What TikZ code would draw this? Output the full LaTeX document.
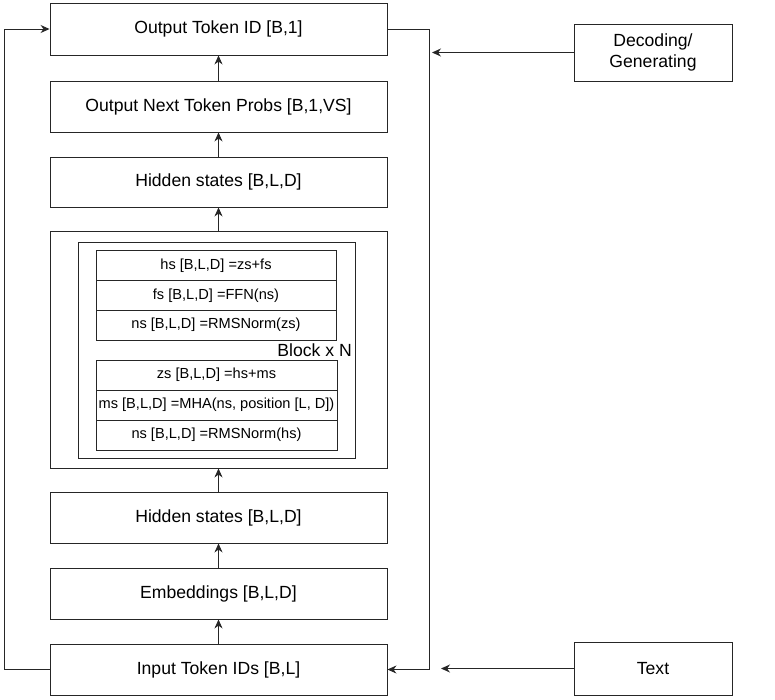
\documentclass[tikz,border=0pt]{standalone}
\usepackage{fontspec}
\setmainfont{Liberation Sans}
\usetikzlibrary{arrows.meta}
\begin{document}
\begin{tikzpicture}[x=1pt,y=-1pt,
  box/.style={draw=black!85,line width=0.9pt,inner sep=0pt,font=\fontsize{17.6}{21}\selectfont,align=center},
  mainbox/.style={box,minimum width=337pt},
  rowbox/.style={draw=black!85,line width=0.9pt,inner sep=0pt,minimum width=240pt,minimum height=30pt,font=\fontsize{14.6}{17}\selectfont},
  arr/.style={draw=black!85,line width=0.9pt,-{Stealth[length=9pt,width=8pt]}},
  ln/.style={draw=black!85,line width=0.9pt}]
\useasboundingbox (0,0) rectangle (775,699);
% main column
\node[mainbox,minimum height=52pt] (out) at (218.5,29) {Output Token ID [B,1]};
\node[mainbox,minimum height=51pt] (probs) at (218.5,106.5) {Output Next Token Probs [B,1,VS]};
\node[mainbox,minimum height=50pt] (hs2) at (218.5,182) {Hidden states [B,L,D]};
\node[mainbox,minimum height=237pt] (block) at (218.5,349.5) {};
\node[draw=black!85,line width=0.9pt,minimum width=277pt,minimum height=216pt,inner sep=0pt] (inner) at (216.5,350) {};
\node[rowbox] (r1) at (216,265.5) {hs [B,L,D] =zs+fs};
\node[rowbox] (r2) at (216,295.5) {fs [B,L,D] =FFN(ns)};
\node[rowbox] (r3) at (216,325) {ns [B,L,D] =RMSNorm(zs)};
\node[font=\fontsize{17.6}{21}\selectfont,anchor=east,inner sep=0pt] (bn) at (352,350) {Block x N};
\node[rowbox,minimum width=241pt] (r4) at (216.5,375) {zs [B,L,D] =hs+ms};
\node[rowbox,minimum width=241pt] (r5) at (216.5,405) {ms [B,L,D] =MHA(ns, position [L, D])};
\node[rowbox,minimum width=241pt] (r6) at (216.5,435) {ns [B,L,D] =RMSNorm(hs)};
\node[mainbox,minimum height=51pt] (hs1) at (218.5,517.5) {Hidden states [B,L,D]};
\node[mainbox,minimum height=51pt] (emb) at (218.5,593.5) {Embeddings [B,L,D]};
\node[mainbox,minimum height=51pt] (inp) at (218.5,669.5) {Input Token IDs [B,L]};
% side boxes
\node[box,minimum width=158pt,minimum height=57pt] (dec) at (653,52.5) {Decoding/\\Generating};
\node[box,minimum width=158pt,minimum height=53pt] (txt) at (653,668.5) {Text};
% vertical arrows
\draw[arr] (inp.north) -- (emb.south);
\draw[arr] (emb.north) -- (hs1.south);
\draw[arr] (hs1.north) -- (block.south);
\draw[arr] (block.north) -- (hs2.south);
\draw[arr] (hs2.north) -- (probs.south);
\draw[arr] (probs.north) -- (out.south);
% loops
\coordinate (lb) at (4,669.5);
\coordinate (lt) at (4,29);
\draw[arr] (inp.west) -- (lb) -- (lt) -- (out.west);
\coordinate (rt) at (429,29);
\coordinate (rb) at (429,669.5);
\draw[arr] (out.east) -- (rt) -- (rb) -- (inp.east);
% side arrows
\coordinate (dtip) at (432,52.5);
\coordinate (ttip) at (441,668.5);
\draw[arr] (dec.west) -- (dtip);
\draw[arr] (txt.west) -- (ttip);
\end{tikzpicture}
\end{document}
